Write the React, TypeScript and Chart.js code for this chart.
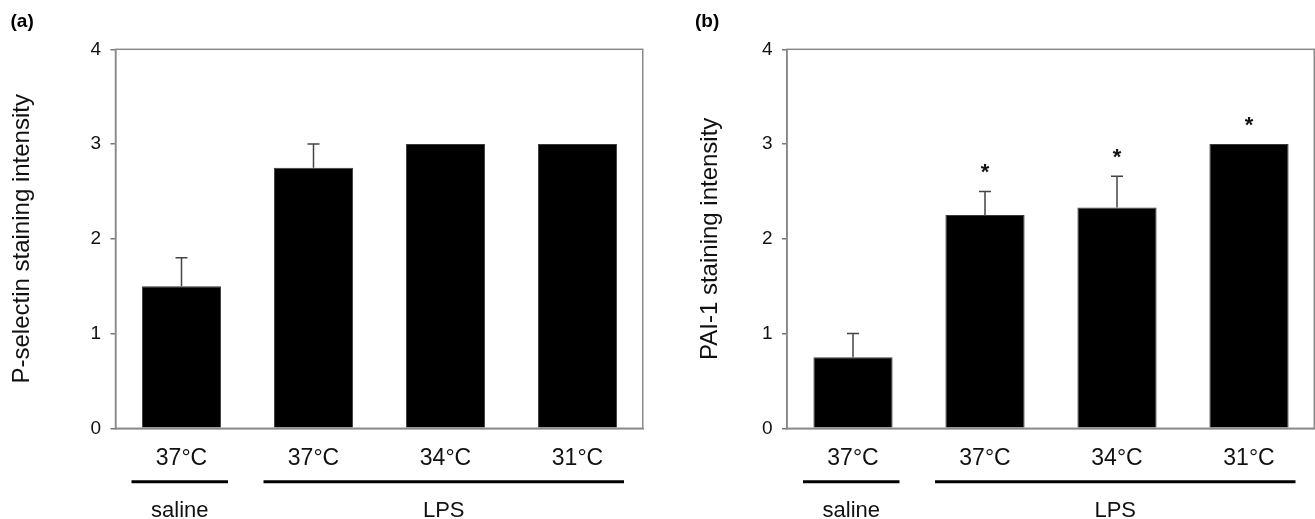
import React, { useEffect, useRef } from 'react';
import { Chart, registerables } from 'chart.js';

Chart.register(...registerables);

// ---------- data ----------
const categories = ['37°C', '37°C', '34°C', '31°C'];
const yTickValues = [0, 1, 2, 3, 4];

const pselectinValues = [1.5, 2.75, 3, 3];
const pselectinErrors = [0.3, 0.25, 0, 0];
const pselectinSignificant = [false, false, false, false];

const pai1Values = [0.75, 2.25, 2.33, 3];
const pai1Errors = [0.25, 0.25, 0.33, 0];
const pai1Significant = [false, true, true, true];

const groupLabels = ['saline', 'LPS'];
const groupStart = [0, 1];
const groupEnd = [0, 3];

const FONT = "'Liberation Sans', Arial, Helvetica, sans-serif";
const TEXT = '#111';

const annotPlugin = {
  id: 'annot',
  beforeDatasetsDraw(chart: any) {
    const { ctx, chartArea: a } = chart;
    ctx.save();
    ctx.strokeStyle = '#8a8a8a';
    ctx.lineWidth = 1.5;
    ctx.strokeRect(a.left, a.top, a.right - a.left - 0.75, a.bottom - a.top);
    ctx.restore();
  },
  afterDraw(chart: any, _args: any, o: any) {
    const ctx = chart.ctx;
    const xs = chart.scales.x;
    const ys = chart.scales.y;
    const vals = chart.data.datasets[0].data as number[];
    ctx.save();
    // error bars
    ctx.strokeStyle = '#444';
    ctx.lineWidth = 1.5;
    o.errors.forEach((e: number, i: number) => {
      if (!e) return;
      const cx = xs.getPixelForValue(i);
      const y0 = ys.getPixelForValue(vals[i]);
      const y1 = ys.getPixelForValue(vals[i] + e);
      ctx.beginPath();
      ctx.moveTo(cx, y0);
      ctx.lineTo(cx, y1);
      ctx.moveTo(cx - 6, y1);
      ctx.lineTo(cx + 6, y1);
      ctx.stroke();
    });
    // significance stars
    ctx.fillStyle = TEXT;
    ctx.font = `bold 22px ${FONT}`;
    ctx.textAlign = 'center';
    ctx.textBaseline = 'alphabetic';
    o.significant.forEach((s: boolean, i: number) => {
      if (!s) return;
      const cx = xs.getPixelForValue(i);
      const yt = ys.getPixelForValue(vals[i] + (o.errors[i] || 0));
      ctx.fillText('*', cx, yt - 12);
    });
    // group lines and labels
    groupLabels.forEach((lab, g) => {
      const left = xs.getPixelForValue(groupStart[g]) - 50;
      const right = xs.getPixelForValue(groupEnd[g]) + 46.5;
      ctx.strokeStyle = '#000';
      ctx.lineWidth = 3;
      ctx.beginPath();
      ctx.moveTo(left, 481.7);
      ctx.lineTo(right, 481.7);
      ctx.stroke();
      ctx.fillStyle = TEXT;
      ctx.font = `22px ${FONT}`;
      ctx.textAlign = 'center';
      ctx.textBaseline = 'alphabetic';
      ctx.fillText(lab, (left + right) / 2, 517);
    });
    // panel label
    ctx.font = `bold 19px ${FONT}`;
    ctx.textAlign = 'left';
    ctx.fillStyle = '#000';
    ctx.fillText(o.panelLabel, o.panelLabelX, 26.7);
    ctx.restore();
  },
};

interface PanelProps {
  values: number[];
  errors: number[];
  significant: boolean[];
  yTitle: string;
  panelLabel: string;
  panelLabelX: number;
  width: number;
  left: number;
  yAxisWidth: number;
  rightPad: number;
  titlePad: number;
}

function Panel(p: PanelProps) {
  const ref = useRef<HTMLCanvasElement | null>(null);
  useEffect(() => {
    if (!ref.current) return;
    const chart = new Chart(ref.current, {
      type: 'bar',
      data: {
        labels: categories,
        datasets: [
          {
            data: p.values,
            backgroundColor: '#000',
            borderColor: '#3a3a3a',
            borderWidth: 1,
            barPercentage: 0.6,
            categoryPercentage: 1,
          },
        ],
      },
      plugins: [annotPlugin],
      options: {
        responsive: false,
        animation: false,
        devicePixelRatio: 1,
        layout: { padding: { left: 0, top: 49.3, right: p.rightPad, bottom: 0 } },
        plugins: {
          legend: { display: false },
          tooltip: { enabled: false },
          annot: {
            errors: p.errors,
            significant: p.significant,
            panelLabel: p.panelLabel,
            panelLabelX: p.panelLabelX,
          },
        } as any,
        scales: {
          x: {
            type: 'category',
            grid: { display: false, drawTicks: false },
            border: { display: true, color: '#777', width: 1.5 },
            ticks: {
              padding: 17,
              autoSkip: false,
              maxRotation: 0,
              color: TEXT,
              font: { family: FONT, size: 23 },
            },
            afterFit: (s: any) => {
              s.height = 90.7;
            },
          },
          y: {
            min: 0,
            max: 4,
            afterBuildTicks: (s: any) => {
              s.ticks = yTickValues.map((v) => ({ value: v }));
            },
            ticks: {
              padding: 9.5,
              color: TEXT,
              font: { family: FONT, size: 19 },
              callback: (v: any) => String(v),
            },
            grid: {
              drawOnChartArea: false,
              drawTicks: true,
              tickLength: 5,
              color: '#777',
              lineWidth: 1.5,
            },
            border: { display: true, color: '#777', width: 1.5 },
            title: {
              display: true,
              text: p.yTitle,
              color: TEXT,
              font: { family: FONT, size: 24, lineHeight: 1.2 },
              padding: { top: p.titlePad, bottom: 0 },
            },
            afterFit: (s: any) => {
              s.width = p.yAxisWidth;
            },
          },
        },
      } as any,
    });
    return () => chart.destroy();
  }, []);
  return (
    <canvas
      ref={ref}
      width={p.width}
      height={519}
      style={{ position: 'absolute', left: p.left, top: 0, width: p.width, height: 519 }}
    />
  );
}

export default function App() {
  return (
    <div
      style={{
        position: 'absolute',
        left: 0,
        top: 0,
        width: 1315,
        height: 519,
        background: '#fff',
        overflow: 'hidden',
      }}
    >
      <Panel
        values={pselectinValues}
        errors={pselectinErrors}
        significant={pselectinSignificant}
        yTitle="P-selectin staining intensity"
        panelLabel="(a)"
        panelLabelX={10.5}
        width={660}
        left={0}
        yAxisWidth={115.5}
        rightPad={16.5}
        titlePad={8}
      />
      <Panel
        values={pai1Values}
        errors={pai1Errors}
        significant={pai1Significant}
        yTitle="PAI-1 staining intensity"
        panelLabel="(b)"
        panelLabelX={35}
        width={655}
        left={660}
        yAxisWidth={127}
        rightPad={0}
        titlePad={36}
      />
    </div>
  );
}
